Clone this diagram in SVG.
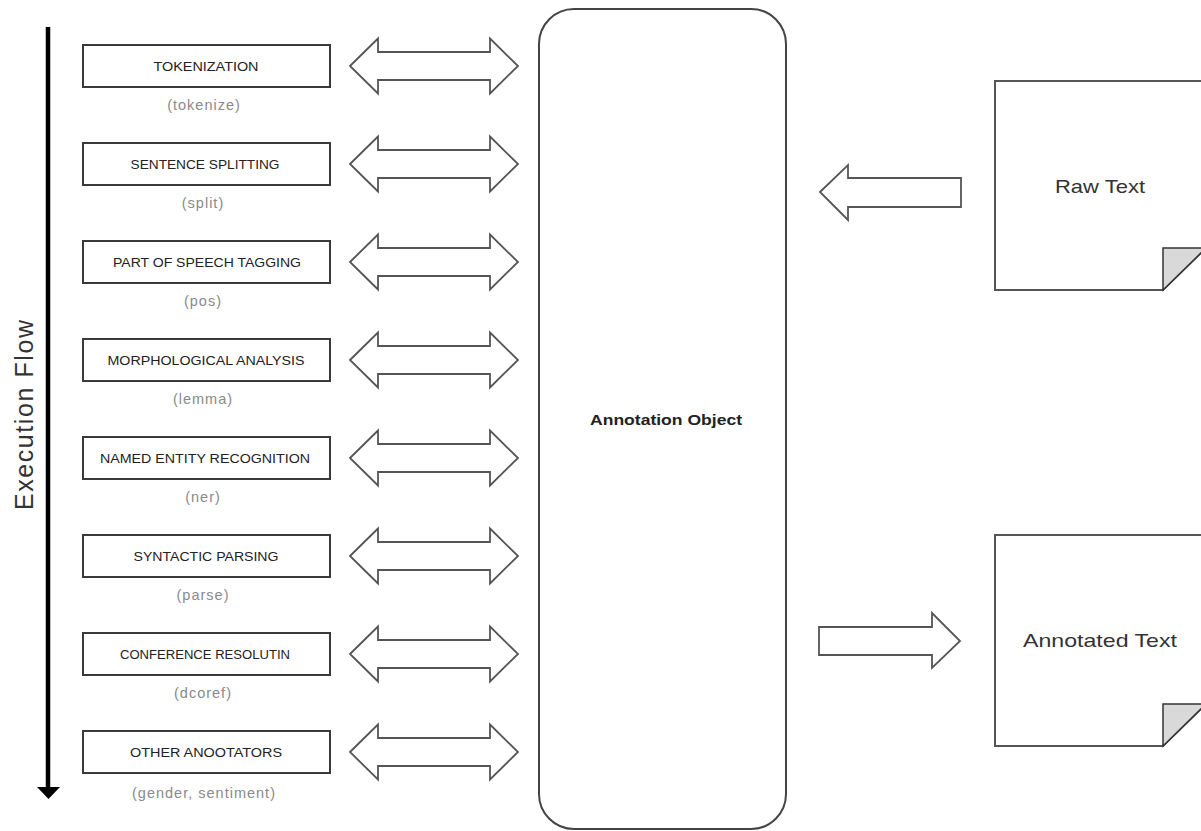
<svg xmlns="http://www.w3.org/2000/svg" width="1201" height="831" viewBox="0 0 1201 831">
<style>
.box{fill:#fff;stroke:#3a3a3a;stroke-width:2}
.lbl{font-family:"Liberation Sans",Arial,sans-serif;font-size:12px;fill:#222;text-anchor:middle}
.sub{font-family:"Liberation Sans",Arial,sans-serif;font-size:14.5px;fill:#8a8a8a;text-anchor:middle;letter-spacing:1px}
.arr{fill:#fff;stroke:#555;stroke-width:1.8;stroke-linejoin:miter}
.doc{fill:#fff;stroke:#555;stroke-width:2}
.fold{fill:#d9d9d9;stroke:#333;stroke-width:1.5}
.big{font-family:"Liberation Sans",Arial,sans-serif;font-size:19px;fill:#333;text-anchor:middle}
</style>
<defs>
<path id="dbl" d="M350,0 L378,-27.5 L378,-14 L490,-14 L490,-27.5 L518,0 L490,27.5 L490,14 L378,14 L378,27.5 Z"/>
</defs>
<rect width="1201" height="831" fill="#fff"/>
<g id="flow">
<line x1="48" y1="27" x2="48" y2="789" stroke="#000" stroke-width="4.5"/>
<polygon points="37,787 60,787 48.5,799" fill="#000"/>
<text transform="translate(33,415) rotate(-90)" font-family="Liberation Sans,Arial,sans-serif" font-size="25" fill="#333" text-anchor="middle" textLength="190" lengthAdjust="spacing">Execution Flow</text>
</g>
<g id="n1"><rect class="box" x="83" y="45" width="247" height="42"/><text class="lbl" x="206" y="71" textLength="105" lengthAdjust="spacingAndGlyphs">TOKENIZATION</text><text class="sub" x="204" y="110">(tokenize)</text></g>
<g id="n2"><rect class="box" x="83" y="143" width="247" height="42"/><text class="lbl" x="205" y="169" textLength="149" lengthAdjust="spacingAndGlyphs">SENTENCE SPLITTING</text><text class="sub" x="203" y="208">(split)</text></g>
<g id="n3"><rect class="box" x="83" y="241" width="247" height="42"/><text class="lbl" x="207" y="267" textLength="188" lengthAdjust="spacingAndGlyphs">PART OF SPEECH TAGGING</text><text class="sub" x="203" y="306">(pos)</text></g>
<g id="n4"><rect class="box" x="83" y="339" width="247" height="42"/><text class="lbl" x="206" y="365" textLength="197" lengthAdjust="spacingAndGlyphs">MORPHOLOGICAL ANALYSIS</text><text class="sub" x="203" y="404">(lemma)</text></g>
<g id="n5"><rect class="box" x="83" y="437" width="247" height="42"/><text class="lbl" x="205" y="463" textLength="210" lengthAdjust="spacingAndGlyphs">NAMED ENTITY RECOGNITION</text><text class="sub" x="203" y="502">(ner)</text></g>
<g id="n6"><rect class="box" x="83" y="535" width="247" height="42"/><text class="lbl" x="206" y="561" textLength="145" lengthAdjust="spacingAndGlyphs">SYNTACTIC PARSING</text><text class="sub" x="203" y="600">(parse)</text></g>
<g id="n7"><rect class="box" x="83" y="633" width="247" height="42"/><text class="lbl" x="205" y="659" textLength="170" lengthAdjust="spacingAndGlyphs">CONFERENCE RESOLUTIN</text><text class="sub" x="203" y="698">(dcoref)</text></g>
<g id="n8"><rect class="box" x="83" y="731" width="247" height="42"/><text class="lbl" x="206" y="757" textLength="152" lengthAdjust="spacingAndGlyphs">OTHER ANOOTATORS</text><text class="sub" x="204" y="798">(gender, sentiment)</text></g>
<g id="annotation">
<rect x="539" y="9" width="247" height="820" rx="35" ry="35" fill="#fff" stroke="#444" stroke-width="2"/>
<text x="666" y="425" font-family="Liberation Sans,Arial,sans-serif" font-size="15" font-weight="bold" fill="#222" text-anchor="middle" textLength="152" lengthAdjust="spacingAndGlyphs">Annotation Object</text>
</g>
<g id="rawtext">
<path class="doc" d="M995,81 H1206 V248 L1163,290 H995 Z"/>
<path class="fold" d="M1163,290 V248 H1206 Z"/>
<text class="big" x="1100" y="193" textLength="90" lengthAdjust="spacingAndGlyphs">Raw Text</text>
</g>
<g id="annotatedtext">
<path class="doc" d="M995,535 H1206 V704 L1163,746 H995 Z"/>
<path class="fold" d="M1163,746 V704 H1206 Z"/>
<text class="big" x="1100" y="647" textLength="154" lengthAdjust="spacingAndGlyphs">Annotated Text</text>
</g>
<g id="connectors">
<use href="#dbl" class="arr" transform="translate(0,66)"/>
<use href="#dbl" class="arr" transform="translate(0,164)"/>
<use href="#dbl" class="arr" transform="translate(0,262)"/>
<use href="#dbl" class="arr" transform="translate(0,360)"/>
<use href="#dbl" class="arr" transform="translate(0,458)"/>
<use href="#dbl" class="arr" transform="translate(0,556)"/>
<use href="#dbl" class="arr" transform="translate(0,654)"/>
<use href="#dbl" class="arr" transform="translate(0,752)"/>
<path class="arr" d="M820,192 L848,165 L848,178 L961,178 L961,207 L848,207 L848,220 Z"/>
<path class="arr" d="M819,627 L932,627 L932,613 L960,641 L932,668 L932,655 L819,655 Z"/>
</g>
</svg>
